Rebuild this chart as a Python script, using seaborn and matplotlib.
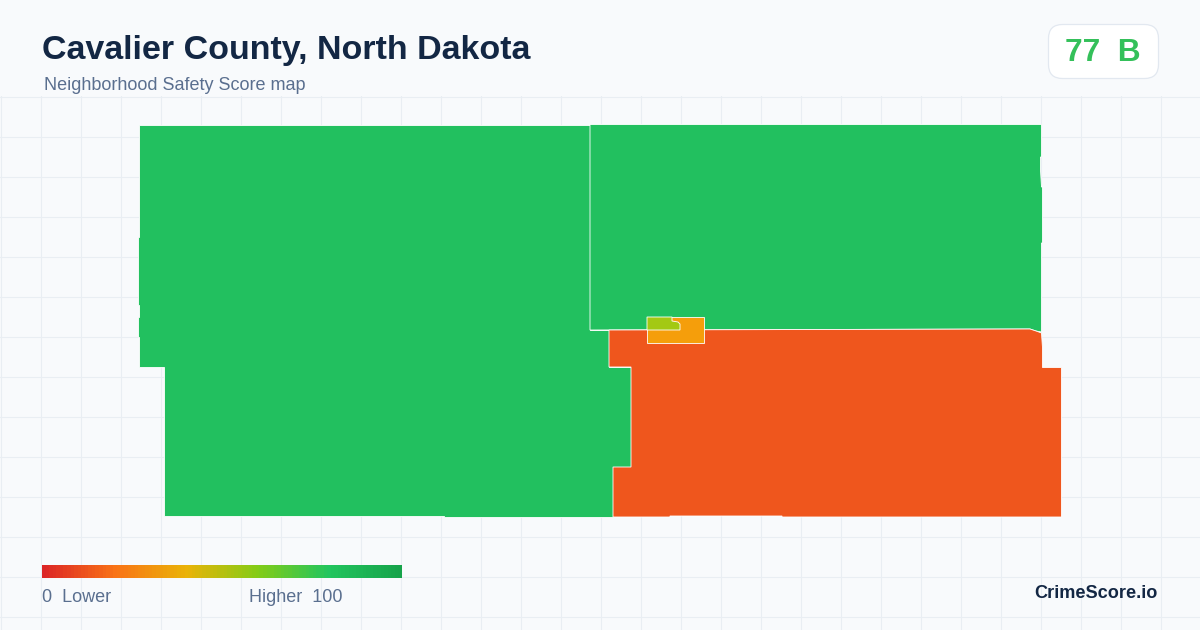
import numpy as np
import matplotlib
matplotlib.use("Agg")
import matplotlib.pyplot as plt
from matplotlib.patches import FancyBboxPatch, Polygon
import seaborn as sns

# boundaries, in picture pixels
west_zone = [(139, 124.5), (590, 124.5), (590, 330), (609, 330), (609, 367), (631, 367), (631, 467), (613, 467),
             (613, 517), (444, 517), (444, 516), (164, 516), (164, 367), (139, 367), (139, 336.5),
             (138, 336.5), (138, 317), (139, 317), (139, 305), (138, 305), (138, 237), (139, 237)]
northeast_zone = [(590, 124.5), (1041.5, 124.5), (1041.5, 157), (1040.5, 157), (1040.5, 170), (1041.5, 187),
                  (1042.5, 187), (1042.5, 243), (1041.5, 243), (1041.5, 332), (1036, 331), (1030, 329), (590, 330)]
southeast_zone = [(609, 330), (1030, 329), (1036, 331), (1041.5, 333), (1042.5, 348), (1042.5, 367.5), (1061.5, 367.5),
                  (1061.5, 517), (782, 517), (782, 516), (670, 516), (670, 517), (613, 517), (613, 467),
                  (631, 467), (631, 367), (609, 367)]
town_zone = [(647, 317), (704, 317), (704, 343), (647, 343)]
town_core = [(647, 317), (672, 317), (672, 321), (678, 322), (680, 324), (680, 330), (647, 330)]

zones = [west_zone, northeast_zone, southeast_zone, town_zone, town_core]
zone_colors = ["#22c05f", "#22c05f", "#ef561d", "#f59e0b", "#a3c913"]

ramp_colors = ["#dc2626", "#f97316", "#eab308", "#84cc16", "#22c55e", "#16a34a"]
ramp_scores = list(range(0, 101))

title = "Cavalier County, North Dakota"
subtitle = "Neighborhood Safety Score map"
score_text = "77  B"
low_label = "0  Lower"
high_label = "Higher  100"
brand = "CrimeScore.io"

BG = "#f8fafc"
W, H = 1200, 630
GRID_TOP = 96

sns.set_theme(style="whitegrid")
plt.rcParams["font.family"] = ["Liberation Sans", "DejaVu Sans"]

fig = plt.figure(figsize=(12, 6.3), dpi=100, facecolor=BG)
ax = fig.add_axes([0, 0, 1, 1 - GRID_TOP / H])
ax.set_facecolor(BG)
ax.set_xlim(0, W)
ax.set_ylim(H, GRID_TOP)

# background grid, every 40px
ax.set_xticks(np.arange(1, W, 40))
ax.set_yticks(np.arange(GRID_TOP + 0.5, H, 40))
ax.grid(True, color="#e9eef3", linewidth=0.8)
ax.tick_params(left=False, bottom=False, labelleft=False, labelbottom=False)
ax.set_axisbelow(True)
sns.despine(ax=ax, left=True, bottom=True, right=True, top=True)

for pts, col in zip(zones, zone_colors):
    ax.add_patch(Polygon(pts, closed=True, facecolor=col, edgecolor="white", linewidth=0.6, zorder=3))

# header
ax.text(42, 50.5, title, fontsize=24.5, fontweight="bold", color="#132744", va="center", clip_on=False)
ax.text(44, 86, subtitle, fontsize=13, color="#5a6f8f", va="center", clip_on=False)

badge = FancyBboxPatch((1048.5, 24.5), 110, 54, boxstyle="round,pad=0,rounding_size=14",
                       facecolor="white", edgecolor="#e2e8f0", linewidth=0.9, clip_on=False, zorder=4)
ax.add_patch(badge)
ax.text(1103, 53, score_text, fontsize=22.8, fontweight="bold", color="#34c05a", ha="center", va="center",
        clip_on=False, zorder=5)

# legend ramp
ramp_ax = fig.add_axes([42 / W, 1 - 578 / H, 360 / W, 13 / H])
ramp_cmap = sns.blend_palette(ramp_colors, as_cmap=True)
sns.heatmap([ramp_scores], ax=ramp_ax, cmap=ramp_cmap, cbar=False, xticklabels=False, yticklabels=False,
            linewidths=0, rasterized=True)

ax.text(42, 597.5, low_label, fontsize=13, color="#5a6f8f", va="center")
ax.text(249, 597.5, high_label, fontsize=13, color="#5a6f8f", va="center")
ax.text(1158, 594, brand, fontsize=13.1, fontweight="bold", color="#132744", ha="right", va="center")

fig.savefig("out.png", dpi=100, facecolor=BG)
